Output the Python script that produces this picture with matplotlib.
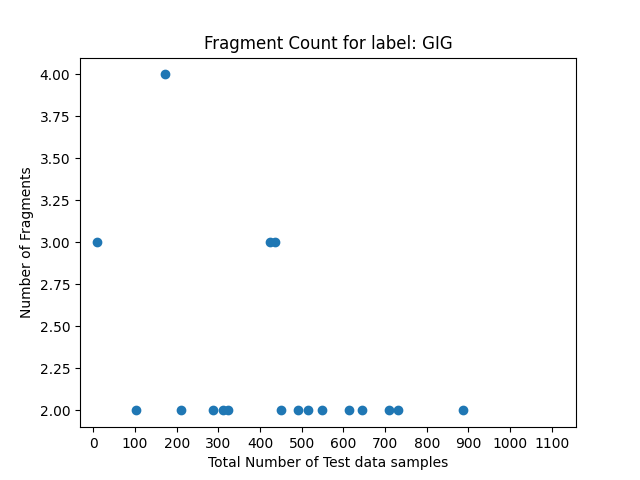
import matplotlib
matplotlib.use("Agg")
import matplotlib.pyplot as plt
import numpy as np

samples = [9, 103, 172, 210, 288, 311, 322, 425, 437, 451, 492, 515, 549, 613, 645, 709, 732, 888]
fragments = [3, 2, 4, 2, 2, 2, 2, 3, 3, 2, 2, 2, 2, 2, 2, 2, 2, 2]

fig = plt.figure(figsize=(6.4, 4.8), dpi=100)
plt.scatter(samples, fragments)
plt.xticks(np.arange(0, 1200, 100))
plt.xlim(-32, 1158)
plt.xlabel("Total Number of Test data samples")
plt.ylabel("Number of Fragments")
plt.title("Fragment Count for label: GIG")
plt.savefig("out.png")
